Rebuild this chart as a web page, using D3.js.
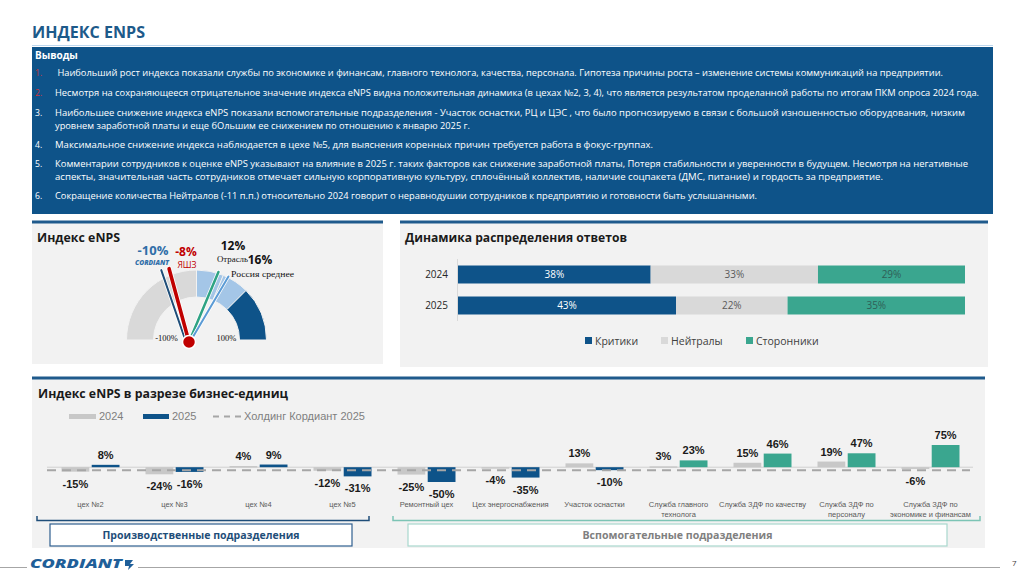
<!DOCTYPE html>
<html>
<head>
<meta charset="utf-8">
<script src="https://d3js.org/d3.v7.min.js"></script>
<style>
  body { margin: 0; background: #fff; }
  svg { display: block; }
</style>
</head>
<body>
<div id="chart"></div>
<script>
// ---- data ----
var findingNums = ["1.", "2.", "3.", "", "4.", "5.", "", "6."];
var findingRed = [true, true, false, false, false, false, false, false];
var findingLines = [
  " Наибольший рост индекса показали службы по экономике и финансам, главного технолога, качества, персонала. Гипотеза причины роста – изменение системы коммуникаций на предприятии.",
  "Несмотря на сохраняющееся отрицательное значение индекса eNPS видна положительная динамика (в цехах №2, 3, 4), что является результатом проделанной работы по итогам ПКМ опроса 2024 года.",
  "Наибольшее снижение индекса eNPS показали вспомогательные подразделения - Участок оснастки, РЦ и ЦЭС , что было прогнозируемо в связи с большой изношенностью оборудования, низким",
  "уровнем заработной платы и еще бОльшим ее снижением по отношению к январю 2025 г.",
  "Максимальное снижение индекса наблюдается в цехе №5, для выяснения коренных причин требуется работа в фокус-группах.",
  "Комментарии сотрудников к оценке eNPS указывают на влияние в 2025 г. таких факторов как снижение заработной платы, Потеря стабильности и уверенности в будущем. Несмотря на негативные",
  "аспекты, значительная часть сотрудников отмечает сильную корпоративную культуру, сплочённый коллектив, наличие соцпакета (ДМС, питание) и гордость за предприятие.",
  "Сокращение количества Нейтралов (-11 п.п.) относительно 2024 говорит о неравнодушии сотрудников к предприятию и готовности быть услышанными."
];

var gaugeBreaks = [-100, 0, 25, 50, 100];
var needleNames = ["CORDIANT", "ЯШЗ", "Отрасль", "Россия среднее"];
var needleValues = [-10, -8, 12, 16];

var years = ["2024", "2025"];
var critics = [38, 43];
var neutrals = [33, 22];
var promoters = [29, 35];
var answerTypes = ["Критики", "Нейтралы", "Сторонники"];

var units = [
  "цех №2", "цех №3", "цех №4", "цех №5", "Ремонтный цех", "Цех энергоснабжения",
  "Участок оснастки", "Служба главного\nтехнолога", "Служба ЗДФ по качеству",
  "Служба ЗДФ по\nперсоналу", "Служба ЗДФ по\nэкономике и финансам"
];
var enps2024 = [-15, -24, 4, -12, -25, -4, 13, 3, 15, 19, -6];
var enps2025 = [8, -16, 9, -31, -50, -35, -10, 23, 46, 47, 75];
var holding2025 = -10;
var growthLeaders = [false, false, false, false, false, false, false, true, true, true, true];
var groupNames = ["Производственные подразделения", "Вспомогательные подразделения"];

// ---- colours / layout ----
var navy = "#0e5389";
var teal = "#3aa68f";
var grey = "#d9d9d9";
var panelBg = "#f2f2f2";

var svg = d3.select("#chart").append("svg")
  .attr("width", 1024).attr("height", 574)
  .style("font-family", "'Open Sans', sans-serif");

// header
svg.append("text").text("ИНДЕКС ENPS")
  .attr("x", 32).attr("y", 38)
  .attr("font-size", 16).attr("font-weight", "bold").attr("fill", "#1d5a8a")
  .attr("textLength", 113).attr("lengthAdjust", "spacingAndGlyphs");
svg.append("line").attr("x1", 32).attr("x2", 993).attr("y1", 45.5).attr("y2", 45.5)
  .attr("stroke", "#bdd7ee").attr("stroke-width", 1);

// findings box
svg.append("rect").attr("x", 32).attr("y", 47).attr("width", 961).attr("height", 167).attr("fill", navy);
svg.append("text").text("Выводы").attr("x", 35).attr("y", 59)
  .attr("font-size", 10).attr("font-weight", "bold").attr("fill", "#fff");

var lineY = [76, 96, 116, 129, 148, 167, 180, 199];
var lineEnd = [943, 979, 965, 470, 653, 968, 883, 757];
var findings = svg.append("g");
findingLines.forEach(function(t, i) {
  if (findingNums[i]) {
    findings.append("text").text(findingNums[i])
      .attr("x", 35).attr("y", lineY[i])
      .attr("font-size", 8.6)
      .attr("fill", findingRed[i] ? "#d0343a" : "#fff");
  }
  findings.append("text").text(t)
    .attr("x", 55).attr("y", lineY[i])
    .attr("font-size", 8.6).attr("fill", "#fff")
    .attr("xml:space", "preserve")
    .attr("textLength", lineEnd[i] - 55).attr("lengthAdjust", "spacingAndGlyphs");
});

// panels
function panel(x, y, w, h) {
  svg.append("rect").attr("x", x).attr("y", y).attr("width", w).attr("height", h).attr("fill", panelBg);
  svg.append("line").attr("x1", x).attr("x2", x + w).attr("y1", y).attr("y2", y)
    .attr("stroke", "#1f5a8c").attr("stroke-width", 3);
}
panel(32, 222, 351, 142);
panel(400, 222, 588, 145);
panel(32, 378, 953, 170);

function title(t, x, y, w) {
  svg.append("text").text(t).attr("x", x).attr("y", y)
    .attr("font-size", 12.5).attr("font-weight", "bold").attr("fill", "#1a1a1a")
    .attr("textLength", w).attr("lengthAdjust", "spacingAndGlyphs");
}
title("Индекс eNPS", 37, 242, 83);
title("Динамика распределения ответов", 405, 242, 222);
title("Индекс eNPS в разрезе бизнес-единиц", 38, 398, 250);

// ---- gauge ----
var gcx = 196.5, gcy = 340, rOut = 70, rIn = 43;
var gaugeAngle = d3.scaleLinear().domain([-100, 100]).range([-Math.PI / 2, Math.PI / 2]);
var gaugeColors = ["#d9d9d9", "#a4c6e7", "#a4c6e7", navy];
var arc = d3.arc().innerRadius(rIn).outerRadius(rOut);
var gauge = svg.append("g").attr("transform", "translate(" + gcx + "," + gcy + ")");
gauge.selectAll("path")
  .data(d3.pairs(gaugeBreaks))
  .enter().append("path")
  .attr("d", function(d) { return arc({ startAngle: gaugeAngle(d[0]), endAngle: gaugeAngle(d[1]) }); })
  .attr("fill", function(d, i) { return gaugeColors[i]; })
  .attr("stroke", panelBg).attr("stroke-width", 1);

gauge.selectAll(".endlabel")
  .data([-100, 100])
  .enter().append("text")
  .attr("class", "endlabel")
  .text(function(d) { return d + "%"; })
  .attr("x", function(d) { return Math.sin(gaugeAngle(d)) * (rIn - 13); })
  .attr("y", 1)
  .attr("text-anchor", "middle")
  .attr("font-family", "'Liberation Serif', serif")
  .attr("font-size", 8.5).attr("fill", "#111");

// needles (spread wider than the dial so close values stay readable)
var pivot = [189, 342];
var needleLen = 76;
var needleAngle = d3.scaleLinear().domain([-100, 100]).range([-190, 190]);
var needleColors = ["#1f4e79", "#c00000", "#2ea384", "#5b9bd5"];
var needleWidths = [2, 3.6, 2.5, 2];
var needleBaseDx = [-3, 0, 0, 1];
var needleOrder = [0, 2, 3, 1];
function tip(v, dx) {
  var a = needleAngle(v) * Math.PI / 180;
  return [pivot[0] + dx + Math.sin(a) * needleLen, pivot[1] - Math.cos(a) * needleLen];
}
var needles = svg.append("g");
needleOrder.forEach(function(i) {
  var dx = needleBaseDx[i];
  var t = tip(needleValues[i], dx);
  needles.append("line")
    .attr("x1", pivot[0] + dx).attr("y1", pivot[1]).attr("x2", t[0]).attr("y2", t[1])
    .attr("stroke", "#fff").attr("stroke-width", needleWidths[i] + 1.6).attr("stroke-linecap", "round");
  needles.append("line")
    .attr("x1", pivot[0] + dx).attr("y1", pivot[1]).attr("x2", t[0]).attr("y2", t[1])
    .attr("stroke", needleColors[i]).attr("stroke-width", needleWidths[i]).attr("stroke-linecap", "round");
});
needles.append("circle").attr("cx", pivot[0]).attr("cy", pivot[1]).attr("r", 6.5)
  .attr("fill", needleColors[1]).attr("stroke", "#fff").attr("stroke-width", 1.5);

// needle labels
var valuePos = [[153, 255], [186, 256], [233, 250], [260, 264]];
var valueColors = ["#2f6ea8", "#c00000", "#111", "#111"];
needleValues.forEach(function(v, i) {
  svg.append("text").text(v + "%")
    .attr("x", valuePos[i][0]).attr("y", valuePos[i][1])
    .attr("text-anchor", "middle")
    .attr("font-size", i === 0 ? 13 : 12).attr("font-weight", "bold")
    .attr("fill", valueColors[i]);
});
svg.append("text").text(needleNames[0])
  .attr("x", 135).attr("y", 265)
  .attr("font-size", 7).attr("font-weight", "900").attr("font-style", "italic")
  .attr("fill", "#2f6ea8").attr("textLength", 34).attr("lengthAdjust", "spacingAndGlyphs");
svg.append("text").text(needleNames[1])
  .attr("x", 187).attr("y", 268).attr("text-anchor", "middle")
  .attr("font-size", 8.5).attr("fill", "#c00000");
svg.append("text").text(needleNames[2])
  .attr("x", 217).attr("y", 262)
  .attr("font-family", "'Liberation Serif', serif").attr("font-size", 8.5).attr("fill", "#111")
  .attr("textLength", 31).attr("lengthAdjust", "spacingAndGlyphs");
svg.append("text").text(needleNames[3])
  .attr("x", 231).attr("y", 277)
  .attr("font-family", "'Liberation Serif', serif").attr("font-size", 8.5).attr("fill", "#111")
  .attr("textLength", 63).attr("lengthAdjust", "spacingAndGlyphs");

// ---- stacked distribution ----
var sx = d3.scaleLinear().domain([0, 100]).range([458, 965]);
var sy = d3.scaleBand().domain(years).range([259, 321]).paddingInner(0.42).paddingOuter(0.21);
var stackRows = years.map(function(y, i) {
  return { year: y, "Критики": critics[i], "Нейтралы": neutrals[i], "Сторонники": promoters[i] };
});
var stacked = d3.stack().keys(answerTypes)(stackRows);
var answerColors = [navy, grey, teal];
var answerTextColors = ["#fff", "#595959", "#2f5f57"];

var dist = svg.append("g");
dist.append("line").attr("x1", sx(0) - 0.5).attr("x2", sx(0) - 0.5).attr("y1", 259).attr("y2", 321)
  .attr("stroke", "#d9d9d9");
stacked.forEach(function(layer, k) {
  var g = dist.append("g");
  g.selectAll("rect").data(layer).enter().append("rect")
    .attr("x", function(d) { return sx(d[0]); })
    .attr("width", function(d) { return sx(d[1]) - sx(d[0]); })
    .attr("y", function(d) { return sy(d.data.year); })
    .attr("height", sy.bandwidth())
    .attr("fill", answerColors[k]);
  g.selectAll("text").data(layer).enter().append("text")
    .text(function(d) { return (d[1] - d[0]) + "%"; })
    .attr("x", function(d) { return sx((d[0] + d[1]) / 2); })
    .attr("y", function(d) { return sy(d.data.year) + sy.bandwidth() / 2 + 3.5; })
    .attr("text-anchor", "middle")
    .attr("font-size", 10).attr("fill", answerTextColors[k]);
});
var yAxisDist = d3.axisLeft(sy).tickSize(0).tickPadding(10);
dist.append("g").attr("transform", "translate(" + sx(0) + ",0)")
  .call(yAxisDist)
  .call(function(g) { g.select(".domain").remove(); })
  .selectAll("text").attr("font-size", 10).attr("fill", "#262626")
  .attr("font-family", "'Open Sans', sans-serif");

var legendX = [585, 661, 746];
answerTypes.forEach(function(t, i) {
  dist.append("rect").attr("x", legendX[i]).attr("y", 337).attr("width", 7).attr("height", 7)
    .attr("fill", answerColors[i]);
  dist.append("text").text(t).attr("x", legendX[i] + 10).attr("y", 344.5)
    .attr("font-size", 10.5).attr("fill", "#404040");
});

// ---- business unit chart ----
var bx = d3.scaleBand().domain(units).range([48.5, 972.5]);
var bsub = d3.scaleBand().domain(years).range([-29, 29]).paddingInner(0.08);
var by = d3.scaleLinear().domain([-50, 75]).range([482, 445]);

var bars = svg.append("g").style("font-family", "'Liberation Sans', Arial, sans-serif");
var unitRows = units.map(function(u, i) {
  return { unit: u, v2024: enps2024[i], v2025: enps2025[i], lead: growthLeaders[i] };
});

bars.append("line")
  .attr("x1", 47).attr("x2", 973).attr("y1", by(0)).attr("y2", by(0))
  .attr("stroke", "#d0d0d0").attr("stroke-width", 1);

function barGroup(key, yr, colorFn) {
  var g = bars.append("g");
  g.selectAll("rect").data(unitRows).enter().append("rect")
    .attr("x", function(d) { return bx(d.unit) + bx.bandwidth() / 2 + bsub(yr); })
    .attr("width", bsub.bandwidth())
    .attr("y", function(d) { return by(Math.max(0, d[key])); })
    .attr("height", function(d) { return Math.max(1.5, Math.abs(by(d[key]) - by(0))); })
    .attr("fill", colorFn);
  g.selectAll("text").data(unitRows).enter().append("text")
    .text(function(d) { return d[key] + "%"; })
    .attr("x", function(d) { return bx(d.unit) + bx.bandwidth() / 2 + bsub(yr) + bsub.bandwidth() / 2; })
    .attr("y", function(d) { return d[key] >= 0 ? by(d[key]) - 6 : by(d[key]) + 16; })
    .attr("text-anchor", "middle")
    .attr("font-size", 11).attr("font-weight", "bold").attr("fill", "#1a1a1a");
}
barGroup("v2024", "2024", function() { return "#c8c8c8"; });
barGroup("v2025", "2025", function(d) { return d.lead ? teal : navy; });

// holding line drawn over the bars
bars.append("line")
  .attr("x1", 47).attr("x2", 970).attr("y1", by(holding2025)).attr("y2", by(holding2025))
  .attr("stroke", "#a6a6a6").attr("stroke-width", 2).attr("stroke-dasharray", "9,6");

// category labels
var xAxisUnits = bars.append("g");
unitRows.forEach(function(d) {
  var cx = bx(d.unit) + bx.bandwidth() / 2;
  var t = xAxisUnits.append("text")
    .attr("x", cx).attr("y", 507)
    .attr("text-anchor", "middle")
    .attr("font-size", 7.5).attr("fill", "#595959");
  d.unit.split("\n").forEach(function(part, j) {
    t.append("tspan").text(part).attr("x", cx).attr("dy", j === 0 ? 0 : 9.5);
  });
});

// legend
var lg = bars.append("g");
lg.append("rect").attr("x", 69).attr("y", 414).attr("width", 27).attr("height", 5).attr("fill", "#c8c8c8");
lg.append("text").text(years[0]).attr("x", 99).attr("y", 420).attr("font-size", 11).attr("fill", "#7f7f7f");
lg.append("rect").attr("x", 143).attr("y", 414).attr("width", 26).attr("height", 5).attr("fill", navy);
lg.append("text").text(years[1]).attr("x", 172).attr("y", 420).attr("font-size", 11).attr("fill", "#7f7f7f");
lg.append("line").attr("x1", 213).attr("x2", 243).attr("y1", 416.5).attr("y2", 416.5)
  .attr("stroke", "#a6a6a6").attr("stroke-width", 2).attr("stroke-dasharray", "6,5");
lg.append("text").text("Холдинг Кордиант 2025").attr("x", 244).attr("y", 420)
  .attr("font-size", 11).attr("fill", "#7f7f7f");

// group brackets and captions
var bracketColors = ["#1f4e79", "#7cc4b5"];
var boxBorders = ["#2f5f8f", "#a8d8cd"];
var boxText = ["#1f4e79", "#808080"];
var boxX = [[50, 352], [408, 947]];
var bracketX = [[37, 369], [393, 980]];
groupNames.forEach(function(name, i) {
  var x0 = bracketX[i][0], x1 = bracketX[i][1];
  bars.append("path")
    .attr("d", "M" + x0 + ",516V520.5H" + x1 + "V516")
    .attr("fill", "none").attr("stroke", bracketColors[i]).attr("stroke-width", 1.5);
  bars.append("rect")
    .attr("x", boxX[i][0]).attr("y", 524)
    .attr("width", boxX[i][1] - boxX[i][0]).attr("height", 22)
    .attr("fill", "#fff").attr("stroke", boxBorders[i]).attr("stroke-width", 1.2);
  bars.append("text").text(name)
    .attr("x", (boxX[i][0] + boxX[i][1]) / 2).attr("y", 539)
    .attr("text-anchor", "middle")
    .attr("font-family", "'Open Sans', sans-serif")
    .attr("font-size", 11).attr("font-weight", "bold").attr("fill", boxText[i])
    .attr("textLength", i === 0 ? 197 : 190).attr("lengthAdjust", "spacingAndGlyphs");
});

// footer
svg.append("line").attr("x1", 0).attr("x2", 27).attr("y1", 567.5).attr("y2", 567.5).attr("stroke", "#a6a6a6");
svg.append("line").attr("x1", 138).attr("x2", 1000).attr("y1", 567.5).attr("y2", 567.5).attr("stroke", "#a6a6a6");
svg.append("text").text("CORDIANT")
  .attr("x", 30).attr("y", 568)
  .attr("font-size", 13).attr("font-weight", "900").attr("font-style", "italic")
  .attr("fill", "#1f5f99").attr("textLength", 92).attr("lengthAdjust", "spacingAndGlyphs");
// small emblem after the logo
svg.append("path")
  .attr("d", "M125,560l8,0l-3,4l4,0l-6,6l1,-4l-4,0z")
  .attr("fill", "#1f5f99");
svg.append("text").text("7").attr("x", 1012).attr("y", 566)
  .attr("font-size", 8).attr("fill", "#404040");
</script>
</body>
</html>
